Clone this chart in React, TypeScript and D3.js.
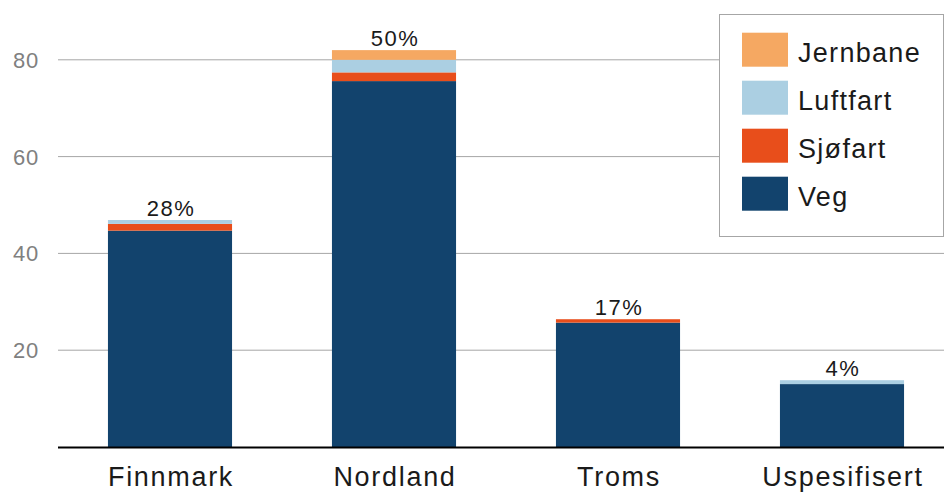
import React from "react";
import * as d3 from "d3";

const categories = ["Finnmark", "Nordland", "Troms", "Uspesifisert"];
const seriesNames = ["Veg", "Sjøfart", "Luftfart", "Jernbane"];
const veg = [44.7, 75.6, 25.7, 13.0];
const sjofart = [1.4, 1.8, 0.7, 0];
const luftfart = [0.8, 2.6, 0, 0.8];
const jernbane = [0, 2.0, 0, 0];
const shares = ["28%", "50%", "17%", "4%"];
const yTicks = [20, 40, 60, 80];
const colors = ["#12436d", "#e84e1b", "#abcfe2", "#f5a862"];

const W = 944;
const H = 493;
const font = "'Liberation Sans', Arial, sans-serif";

const App = () => {
  const rows = categories.map((c, i) => ({
    cat: c,
    Veg: veg[i],
    "Sjøfart": sjofart[i],
    Luftfart: luftfart[i],
    Jernbane: jernbane[i],
  }));
  const stacked = d3.stack<any>().keys(seriesNames)(rows);

  const x = d3.scaleBand().domain(categories).range([58, 954]).paddingInner(0.446).paddingOuter(0.223);
  const y = d3.scaleLinear().domain([0, 80]).range([447, 59.8]);

  const totals = rows.map((r) => d3.sum(seriesNames, (k) => r[k]));
  const legendOrder = [...seriesNames].reverse();

  return (
    <svg width={W} height={H} style={{ position: "absolute", left: 0, top: 0 }}>
      {yTicks.map((t) => (
        <g key={t}>
          <line x1={58} x2={W} y1={y(t)} y2={y(t)} stroke="#a6a6a6" strokeWidth={1} />
          <text x={39} y={y(t)} dy="0.36em" textAnchor="end" fontFamily={font} fontSize={22} letterSpacing={0.8} fill="#808080">
            {t}
          </text>
        </g>
      ))}
      {stacked.map((s, si) =>
        s.map((d, i) => (
          <rect
            key={`${si}-${i}`}
            x={x(categories[i])}
            width={x.bandwidth()}
            y={y(d[1])}
            height={Math.max(0, y(d[0]) - y(d[1]))}
            fill={colors[si]}
          />
        ))
      )}
      {categories.map((c, i) => (
        <text
          key={c}
          x={x(c)! + x.bandwidth() / 2 + 1}
          y={y(totals[i]) - 4}
          textAnchor="middle"
          fontFamily={font}
          fontSize={22}
          letterSpacing={1.5}
          fill="#1a1a1a"
        >
          {shares[i]}
        </text>
      ))}
      <line x1={58} x2={W} y1={y(0) + 0.5} y2={y(0) + 0.5} stroke="#000" strokeWidth={2} />
      {categories.map((c) => (
        <text
          key={c}
          x={x(c)! + x.bandwidth() / 2 + 1}
          y={486}
          textAnchor="middle"
          fontFamily={font}
          fontSize={27}
          letterSpacing={1.7}
          fill="#1a1a1a"
        >
          {c}
        </text>
      ))}
      <g>
        <rect x={719.5} y={14.5} width={224} height={222} fill="#fff" stroke="#a6a6a6" strokeWidth={1} />
        {legendOrder.map((name, i) => (
          <g key={name} transform={`translate(742, ${32.7 + i * 48})`}>
            <rect width={46} height={34} fill={colors[seriesNames.indexOf(name)]} />
            <text x={56} y={29} fontFamily={font} fontSize={27} letterSpacing={1.3} fill="#1a1a1a">
              {name}
            </text>
          </g>
        ))}
      </g>
    </svg>
  );
};

export default App;
